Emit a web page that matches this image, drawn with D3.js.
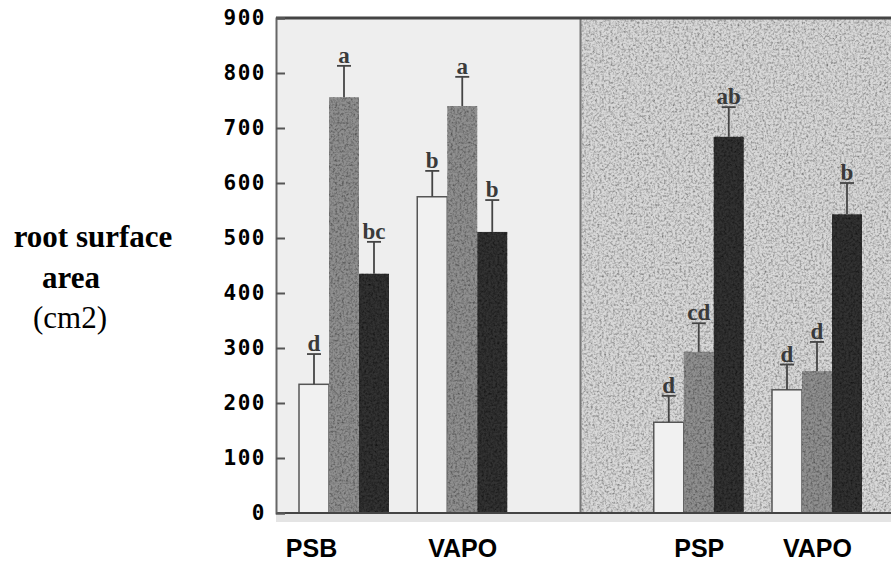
<!DOCTYPE html>
<html>
<head>
<meta charset="utf-8">
<script src="https://cdn.jsdelivr.net/npm/d3@7"></script>
<style>
	body { margin: 0; background: #fff; }
	svg { display: block; }
</style>
</head>
<body>
<svg width="891" height="562"></svg>
<script>
// data
const groupKeys = ["PSB", "VAPO1", "gap", "PSP", "VAPO2"];
const groupLabels = ["PSB", "VAPO", "", "PSP", "VAPO"];
const seriesKeys = ["s1", "s2", "s3"];
const s1Values = [234, 575, 165, 224];
const s2Values = [756, 740, 293, 258];
const s3Values = [435, 511, 684, 543];
const s1Err = [55, 47, 48, 46];
const s2Err = [57, 53, 52, 53];
const s3Err = [58, 58, 54, 57];
const s1Letters = ["d", "b", "d", "d"];
const s2Letters = ["a", "a", "cd", "d"];
const s3Letters = ["bc", "b", "ab", "b"];
const yTicks = [0, 100, 200, 300, 400, 500, 600, 700, 800, 900];

const barGroups = ["PSB", "VAPO1", "PSP", "VAPO2"];
const data = [];
barGroups.forEach((g, i) => {
	data.push({ group: g, key: "s1", value: s1Values[i], err: s1Err[i], letter: s1Letters[i] });
	data.push({ group: g, key: "s2", value: s2Values[i], err: s2Err[i], letter: s2Letters[i] });
	data.push({ group: g, key: "s3", value: s3Values[i], err: s3Err[i], letter: s3Letters[i] });
});

const svg = d3.select("svg");
const plot = { left: 276, right: 892, top: 18, bottom: 513 };

const x = d3.scalePoint().domain(groupKeys).range([344, 817]);
const xInner = d3.scaleBand().domain(seriesKeys).range([-45, 45]).padding(0);
const y = d3.scaleLinear().domain([0, 900]).range([plot.bottom, plot.top]);

const fills = { s1: "#f1f1f1", s2: "#8f8f8f", s3: "#303030" };

// grain filter for the scanned look
const defs = svg.append("defs");
const grain = defs.append("filter").attr("id", "grain").attr("x", 0).attr("y", 0).attr("width", 1).attr("height", 1);
grain.append("feTurbulence").attr("type", "fractalNoise").attr("baseFrequency", 0.45).attr("numOctaves", 2).attr("seed", 4).attr("result", "noise");
grain.append("feColorMatrix").attr("in", "noise").attr("type", "matrix")
	.attr("values", "0 0 0 0 0  0 0 0 0 0  0 0 0 0 0  1.5 0 0 0 -0.6").attr("result", "speck");
grain.append("feComposite").attr("in", "speck").attr("in2", "SourceGraphic").attr("operator", "in").attr("result", "clipped");
const merge = grain.append("feMerge");
merge.append("feMergeNode").attr("in", "SourceGraphic");
merge.append("feMergeNode").attr("in", "clipped");

const divX = x("gap");

// panels
svg.append("rect").attr("x", plot.left).attr("y", plot.top).attr("width", divX - plot.left).attr("height", plot.bottom - plot.top)
	.attr("fill", "#eeeeee");
svg.append("rect").attr("x", divX).attr("y", plot.top).attr("width", plot.right - divX).attr("height", plot.bottom - plot.top)
	.attr("fill", "#d8d8d8").attr("filter", "url(#grain)");
svg.append("rect").attr("x", plot.left).attr("y", plot.bottom).attr("width", plot.right - plot.left).attr("height", 9)
	.attr("fill", "#e4e4e4");
svg.append("line").attr("x1", divX).attr("x2", divX).attr("y1", plot.top).attr("y2", plot.bottom)
	.attr("stroke", "#777").attr("stroke-width", 2);
svg.append("line").attr("x1", plot.left).attr("x2", plot.right).attr("y1", plot.top).attr("y2", plot.top)
	.attr("stroke", "#444").attr("stroke-width", 3);

// bars
const bars = svg.append("g");
bars.selectAll("rect")
	.data(data)
	.join("rect")
	.attr("x", (d) => x(d.group) + xInner(d.key))
	.attr("width", xInner.bandwidth())
	.attr("y", (d) => y(d.value))
	.attr("height", (d) => y(0) - y(d.value))
	.attr("fill", (d) => fills[d.key])
	.attr("stroke", (d) => (d.key === "s1" ? "#555" : "none"))
	.attr("stroke-width", 1.5)
	.attr("filter", (d) => (d.key === "s1" ? null : "url(#grain)"));

// error bars
const cx = (d) => x(d.group) + xInner(d.key) + xInner.bandwidth() / 2;
const err = svg.append("g").attr("stroke", "#444").attr("stroke-width", 1.8);
err.selectAll(".stem").data(data).join("line").attr("class", "stem")
	.attr("x1", cx).attr("x2", cx)
	.attr("y1", (d) => y(d.value)).attr("y2", (d) => y(d.value + d.err));
err.selectAll(".cap").data(data).join("line").attr("class", "cap")
	.attr("x1", (d) => cx(d) - 7).attr("x2", (d) => cx(d) + 7)
	.attr("y1", (d) => y(d.value + d.err)).attr("y2", (d) => y(d.value + d.err));

svg.append("g").selectAll("text").data(data).join("text")
	.attr("x", cx)
	.attr("y", (d) => y(d.value + d.err) - 3)
	.attr("text-anchor", "middle")
	.style("font", "bold 23px 'Liberation Serif', serif")
	.attr("fill", "#3a3a3a")
	.text((d) => d.letter);

// baseline
svg.append("line").attr("x1", plot.left).attr("x2", plot.right).attr("y1", plot.bottom).attr("y2", plot.bottom)
	.attr("stroke", "#444").attr("stroke-width", 2);

// y axis
const yAxis = svg.append("g").attr("transform", `translate(${plot.left}, 0)`)
	.call(d3.axisLeft(y).tickValues(yTicks).tickSize(-9).tickPadding(10).tickFormat(d3.format("d")));
yAxis.select(".domain").attr("stroke", "#666").attr("stroke-width", 2);
yAxis.selectAll(".tick line").attr("stroke", "#555").attr("stroke-width", 2);
yAxis.selectAll(".tick text")
	.style("font", "bold 21px 'DejaVu Sans Mono', monospace")
	.style("letter-spacing", "1.5px")
	.attr("fill", "#000");

// x labels
const labelShift = { PSB: -33 };
const xAxis = svg.append("g").attr("transform", `translate(0, 548)`)
	.call(d3.axisBottom(x).tickSize(0).tickPadding(0).tickFormat((d, i) => groupLabels[i]));
xAxis.select(".domain").remove();
xAxis.selectAll(".tick text")
	.attr("dx", (d) => labelShift[d] || 0)
	.attr("dy", "0.35em")
	.style("font", "bold 25px 'Liberation Sans', Arial, sans-serif")
	.attr("fill", "#000");

// y title
const title = svg.append("g").style("font-family", "'Liberation Serif', 'Times New Roman', serif").attr("fill", "#000");
title.append("text").attr("x", 93).attr("y", 247).attr("text-anchor", "middle").style("font-weight", "bold").style("font-size", "31px").text("root surface");
title.append("text").attr("x", 71).attr("y", 288).attr("text-anchor", "middle").style("font-weight", "bold").style("font-size", "31px").text("area");
title.append("text").attr("x", 70).attr("y", 328).attr("text-anchor", "middle").style("font-size", "31px").text("(cm2)");
</script>
</body>
</html>
